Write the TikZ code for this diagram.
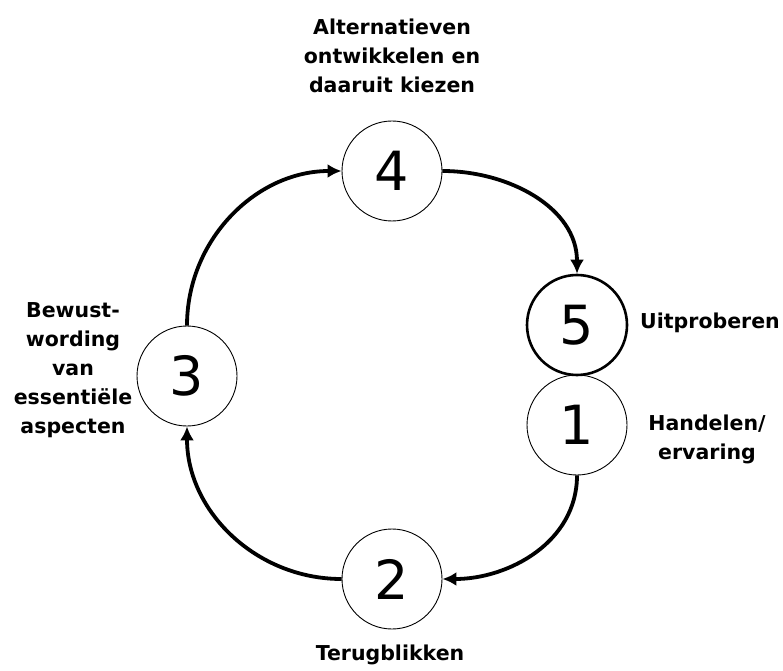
\documentclass[tikz,border=0pt]{standalone}
\usepackage{fontspec}
\setmainfont{DejaVu Sans}
\usetikzlibrary{positioning, arrows.meta}
\tikzset{
    stap/.style={
        circle, draw, line width=0.9pt, minimum size=100pt, inner sep=0pt,
        font=\fontsize{54}{54}\selectfont
    },
    mm/.style={
        line width=3.8pt, -{Latex[length=14pt, width=14pt]}
    },
    lbl/.style={
        align=center, font=\bfseries\fontsize{20.5}{29}\selectfont
    }
}
\begin{document}
\begin{tikzpicture}[x=1pt, y=1pt]
        \useasboundingbox (0,0) rectangle (783,670);

        \node[stap] (four)  at (392,499) {4};
        \node[stap, line width=2.6pt] (five) at (577,345) {5};
        \node[stap] (one)   at (577,245) {1};
        \node[stap] (three) at (187,294) {3};
        \node[stap] (two)   at (392,91)  {2};

        \node[lbl] (lfour)  at (392,614) {Alternatieven\\ontwikkelen en\\daaruit kiezen};
        \node[lbl] (lfive)  at (710,347) {Uitproberen};
        \node[lbl] (lone)   at (707,231) {Handelen/\\ervaring};
        \node[lbl] (lthree) at (73,300)  {Bewust-\\wording\\van\\essentiële\\aspecten};
        \node[lbl] (ltwo)   at (390,15)  {Terugblikken};

        \path (three) edge[mm, out=90, in=180] (four)
                (four) edge[mm, out=0, in=90] (five)
                (one) edge[mm, out=-90, in=0] (two)
                (two) edge[mm, out=180, in=-90] (three);
\end{tikzpicture}
\end{document}
